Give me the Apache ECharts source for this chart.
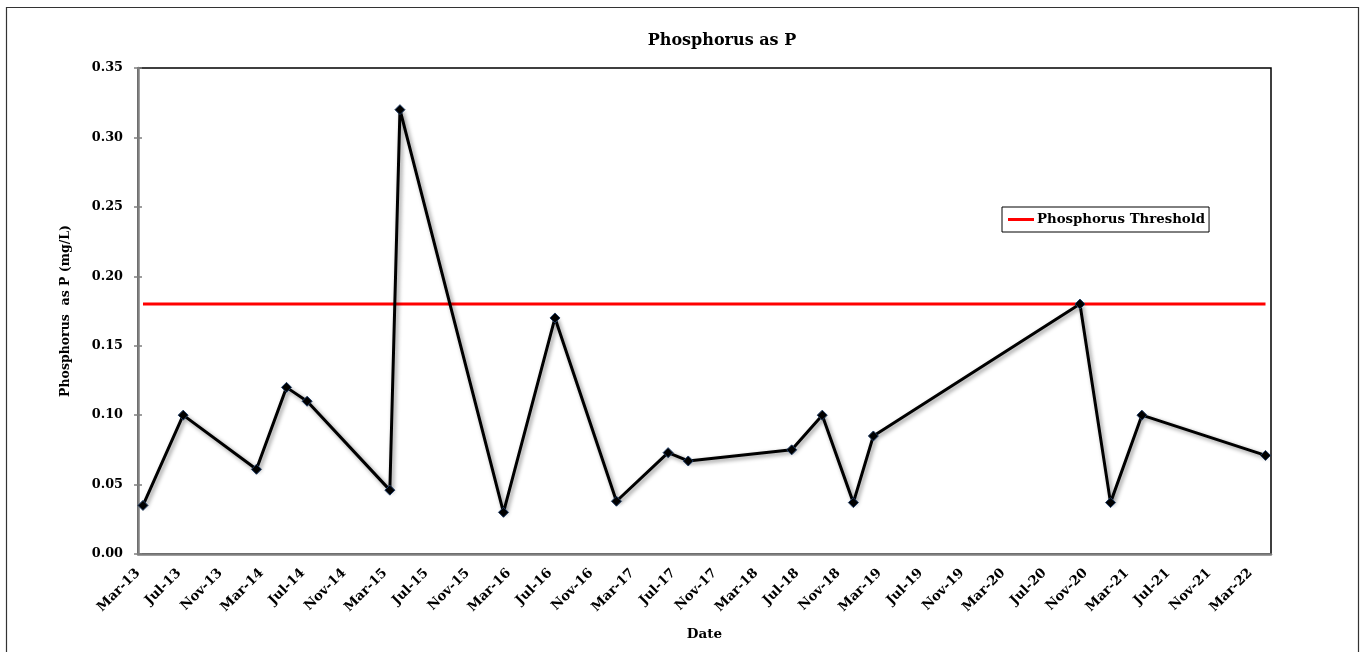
<!DOCTYPE html>
<html>
<head>
<meta charset="utf-8">
<script src="https://cdn.jsdelivr.net/npm/echarts@6/dist/echarts.min.js"></script>
<style>
html,body{margin:0;padding:0;background:#fff;}
#chart{width:1362px;height:652px;}
</style>
</head>
<body>
<div id="chart"></div>
<script>
// ---- data ----
var sampleDates = ["2013-03-16","2013-07-13","2014-02-15","2014-05-14","2014-07-14","2015-03-15","2015-04-14","2016-02-15","2016-07-16","2017-01-15","2017-06-15","2017-08-14","2018-06-15","2018-09-14","2018-12-15","2019-02-12","2020-10-15","2021-01-14","2021-04-15","2022-04-15"];
var phosphorus = [0.035,0.10,0.061,0.12,0.11,0.046,0.32,0.030,0.17,0.038,0.073,0.067,0.075,0.10,0.037,0.085,0.18,0.037,0.10,0.071];
var thresholdValue = 0.18;
var yTicks = [0,0.05,0.10,0.15,0.20,0.25,0.30,0.35];
var monthNames = ["Jan","Feb","Mar","Apr","May","Jun","Jul","Aug","Sep","Oct","Nov","Dec"];
var axisStart = {year:2013, month:3};   // Mar-13
var axisSpanMonths = 110;
var labelStepMonths = 4;

// ---- helpers ----
function monthOffset(s){
  var p = s.split('-'); var y=+p[0], m=+p[1], d=+p[2];
  var dim = new Date(y, m, 0).getDate();
  return (y-axisStart.year)*12 + (m-axisStart.month) + (d-1)/dim;
}
function offsetLabel(v){
  if (Math.abs(v % labelStepMonths) > 1e-6) return '';
  var idx = axisStart.month - 1 + v;
  var mo = idx % 12, yr = axisStart.year + Math.floor(idx/12);
  return monthNames[mo] + '-' + String(yr).slice(2);
}
var seriesData = sampleDates.map(function(d,i){ return [monthOffset(d), phosphorus[i]]; });
var thrData = [[monthOffset(sampleDates[0]), thresholdValue],[monthOffset(sampleDates[sampleDates.length-1]), thresholdValue]];

var FONT = 'DejaVu Serif';
var chart = echarts.init(document.getElementById('chart'), null, {renderer:'canvas'});
chart.setOption({
  backgroundColor:'#fff',
  animation:false,
  title:{
    text:'Phosphorus as P', left:717, top:28, textAlign:'center',
    textStyle:{fontFamily:FONT, fontWeight:'bold', fontSize:16, color:'#000'}
  },
  legend:{
    data:['Phosphorus Threshold'],
    left:1002, top:207,
    orient:'horizontal',
    backgroundColor:'#fff', borderColor:'#000', borderWidth:1, borderRadius:0,
    padding:[6,4,6,6],
    itemWidth:26, itemHeight:3, itemGap:4,
    icon:'rect',
    textStyle:{fontFamily:FONT, fontWeight:'bold', fontSize:13.3, color:'#000', padding:[0,0,0,-2]}
  },
  grid:{left:138, right:91, top:68, bottom:98, show:true, borderColor:'#000', borderWidth:1.5, backgroundColor:'transparent'},
  xAxis:{
    type:'value', min:0, max:axisSpanMonths, interval:labelStepMonths,
    name:'Date', nameLocation:'middle', nameGap:73,
    nameTextStyle:{fontFamily:FONT, fontWeight:'bold', fontSize:13.5, color:'#000'},
    axisLine:{show:true, lineStyle:{color:'#7f7f7f', width:2.5}},
    axisTick:{show:false},
    splitLine:{show:false},
    axisLabel:{
      rotate:45, margin:17, showMaxLabel:false,
      fontFamily:FONT, fontWeight:'bold', fontSize:13.3, color:'#000',
      formatter:function(v){ return offsetLabel(v); }
    }
  },
  yAxis:[{
    type:'value', min:yTicks[0], max:yTicks[yTicks.length-1], interval:0.05, position:'left',
    name:'Phosphorus  as P (mg/L)', nameLocation:'middle', nameGap:66, nameRotate:90,
    nameTextStyle:{fontFamily:FONT, fontWeight:'bold', fontSize:12.5, color:'#000'},
    axisLine:{show:true, lineStyle:{color:'#7f7f7f', width:2.5}},
    axisTick:{show:true, length:4, lineStyle:{color:'#7f7f7f', width:1.5}},
    splitLine:{show:false},
    axisLabel:{margin:15, fontFamily:FONT, fontWeight:'bold', fontSize:12.8, color:'#000',
      formatter:function(v){ return v.toFixed(2); }}
  },{
    type:'value', min:yTicks[0], max:yTicks[yTicks.length-1], interval:0.05, position:'left', offset:0,
    axisLine:{show:false},
    axisTick:{show:true, inside:true, length:4, lineStyle:{color:'#7f7f7f', width:1.5}},
    axisLabel:{show:false}, splitLine:{show:false}
  }],
  series:[{
    name:'Phosphorus', type:'line', data:seriesData, z:3,
    symbol:'diamond', symbolSize:10,
    itemStyle:{color:'#000', borderColor:'#1f3b63', borderWidth:1},
    lineStyle:{color:'#000', width:3, shadowBlur:4, shadowColor:'rgba(0,0,0,0.45)', shadowOffsetX:2, shadowOffsetY:2}
  },{
    name:'Phosphorus Threshold', type:'line', data:thrData, z:2,
    symbol:'none', showSymbol:false,
    itemStyle:{color:'#ff0000'},
    lineStyle:{color:'#ff0000', width:3}
  }],
  graphic:[{
    type:'rect', left:4, top:5, z:100, silent:true,
    shape:{width:1352, height:645},
    style:{fill:'none', stroke:'#333', lineWidth:1.2}
  }]
});
</script>
</body>
</html>
